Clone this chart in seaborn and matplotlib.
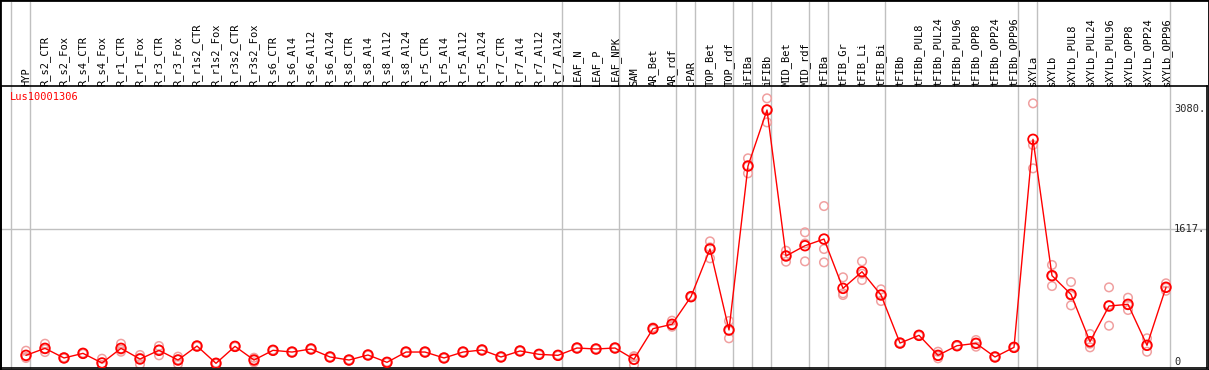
"""Expression profile of Lus10001306 across tissues."""

import matplotlib

matplotlib.use("Agg")
import matplotlib.pyplot as plt
import matplotlib.transforms as mtransforms
import pandas as pd
import seaborn as sns

# tissue / condition labels, left to right
samples = [
    "HYP", "R_s2_CTR", "R_s2_Fox", "R_s4_CTR", "R_s4_Fox", "R_r1_CTR", "R_r1_Fox",
    "R_r3_CTR", "R_r3_Fox", "R_r1s2_CTR", "R_r1s2_Fox", "R_r3s2_CTR", "R_r3s2_Fox",
    "R_s6_CTR", "R_s6_Al4", "R_s6_Al12", "R_s6_Al24", "R_s8_CTR", "R_s8_Al4",
    "R_s8_Al12", "R_s8_Al24", "R_r5_CTR", "R_r5_Al4", "R_r5_Al12", "R_r5_Al24",
    "R_r7_CTR", "R_r7_Al4", "R_r7_Al12", "R_r7_Al24", "LEAF_N", "LEAF_P", "LEAF_NPK",
    "SAM", "AR_Bet", "AR_rdf", "cPAR", "TOP_Bet", "TOP_rdf", "iFIBa", "iFIBb",
    "MID_Bet", "MID_rdf", "tFIBa", "tFIB_Gr", "tFIB_Li", "tFIB_Bi", "tFIBb",
    "tFIBb_PUL8", "tFIBb_PUL24", "tFIBb_PUL96", "tFIBb_OPP8", "tFIBb_OPP24",
    "tFIBb_OPP96", "sXYLa", "sXYLb", "sXYLb_PUL8", "sXYLb_PUL24", "sXYLb_PUL96",
    "sXYLb_OPP8", "sXYLb_OPP24", "sXYLb_OPP96",
]

mean_expr = [
    81, 166, 49, 105, -12, 166, 36, 142, 24, 194, -16, 190, 24,
    142, 121, 158, 61, 24, 85, -4, 121, 121, 49, 121, 146,
    61, 134, 93, 81, 170, 158, 170,
    33, 405, 458, 794, 1373, 389, 2382, 3062,
    1288, 1413, 1494, 895, 1097, 814, 230,
    324, 81, 198, 227, 61, 178,
    2706, 1049, 822, 247, 680, 701, 203, 908,
]

rep1 = [
    137, 222, 55, 110, 40, 222, 85, 194, 65, 200, -10, 195, 52,
    146, 125, 162, 65, 28, 89, 0, 125, 125, 53, 125, 150,
    65, 138, 97, 85, 174, 162, 174,
    70, 420, 502, 800, 1466, 498, 2475, 3204,
    1352, 1576, 1895, 1029, 1223, 883, 235,
    330, 125, 204, 267, 65, 182,
    3143, 1179, 972, 340, 907, 781, 288, 956,
]

rep2 = [
    49, 121, 45, 100, -36, 125, -28, 81, -24, 188, -20, 185, -4,
    138, 117, 154, 57, 20, 81, -8, 117, 117, 45, 117, 142,
    57, 130, 89, 77, 166, 154, 166,
    -36, 395, 429, 788, 1260, 288, 2293, 2912,
    1219, 1223, 1373, 835, 996, 741, 225,
    318, 45, 192, 186, 57, 174,
    2637, 923, 688, 178, 441, 632, 125, 866,
]

rep3 = [
    60, 155, 47, 105, -40, 150, 50, 150, 30, 194, -18, 190, 24,
    142, 121, 158, 61, 24, 85, -4, 121, 121, 49, 121, 146,
    61, 134, 93, 81, 170, 158, 170,
    65, 400, 443, 794, 1393, 381, 2378, 3070,
    1293, 1440, 1211, 814, 1072, 818, 230,
    324, 73, 198, 228, 61, 178,
    2353, 1045, 806, 223, 692, 690, 196, 902,
]

# last sample of each tissue group (a grey separator follows it)
group_ends = ["HYP", "R_r7_Al24", "LEAF_NPK", "AR_rdf", "cPAR", "TOP_rdf", "iFIBa",
              "iFIBb", "MID_rdf", "tFIBa", "tFIB_Bi", "tFIBb_OPP96", "sXYLa",
              "sXYLb_OPP96"]

y_ticks = [0, 1617, 3080]
y_tick_labels = ["0", "1617.", "3080."]

means = pd.DataFrame({"pos": range(len(samples)), "sample": samples, "expr": mean_expr})
reps = pd.concat(
    [pd.DataFrame({"pos": range(len(samples)), "expr": r}) for r in (rep1, rep2, rep3)],
    ignore_index=True,
)

sns.set_style("white")
plt.rcParams["font.family"] = ["DejaVu Sans Mono", "DejaVu Sans"]

W, H = 1209, 370
fig = plt.figure(figsize=(W / 100, H / 100), dpi=100)
ax = fig.add_axes([1 / W, 2 / H, 1206 / W, 282 / H])

x_lo = -25 / 19
x_hi = 1181 / 19
ax.set_xlim(x_lo, x_hi)
ax.set_ylim(-73, 3354)

# grey separators run through the label strip up to the top of the figure
ymax_sep = 1 + 84 / 282
for name in [None] + group_ends:
    x = (samples.index(name) if name else -1) + 0.21
    ax.axvline(x, ymin=0, ymax=ymax_sep, color="#c0c0c0", lw=1, clip_on=False, zorder=0)
ax.axhline(1617, color="#c0c0c0", lw=1, zorder=0)

sns.scatterplot(
    data=reps, x="pos", y="expr", ax=ax, marker="o", s=38,
    facecolors="none", edgecolor="#f0a0a0", linewidth=1.1, legend=False, zorder=2,
)
sns.lineplot(data=means, x="pos", y="expr", ax=ax, color="red", lw=1, zorder=3)
sns.scatterplot(
    data=means, x="pos", y="expr", ax=ax, marker="o", s=48,
    facecolors="none", edgecolor="red", linewidth=1.3, legend=False, zorder=4,
)

ax.set_xticks([])
ax.set_yticks([])
ax.set_xlabel("")
ax.set_ylabel("")
for side in ["top", "left", "right", "bottom"]:
    ax.spines[side].set_visible(True)
    ax.spines[side].set_color("black")
    ax.spines[side].set_linewidth(1.2)

# sample labels above the plot
trans = mtransforms.blended_transform_factory(ax.transData, ax.transAxes)
for i, name in enumerate(samples):
    ax.text(i, 1.0, name, transform=trans, rotation=90, ha="center", va="bottom",
            fontsize=7.5, color="black")

ytrans = mtransforms.blended_transform_factory(ax.transAxes, ax.transData)
for v, lab in zip(y_ticks, y_tick_labels):
    ax.text(1173 / 1206, v, lab, transform=ytrans, ha="left", va="center", fontsize=7.5)

ax.text(9 / 1206, 1 - 11 / 282, "Lus10001306", transform=ax.transAxes,
        ha="left", va="center", fontsize=7.5, color="red")

# outer frame
fig.patches.append(plt.Rectangle((0, 0), 1, 1, transform=fig.transFigure,
                                 fill=False, edgecolor="black", lw=2))

fig.savefig("out.png", dpi=100)
